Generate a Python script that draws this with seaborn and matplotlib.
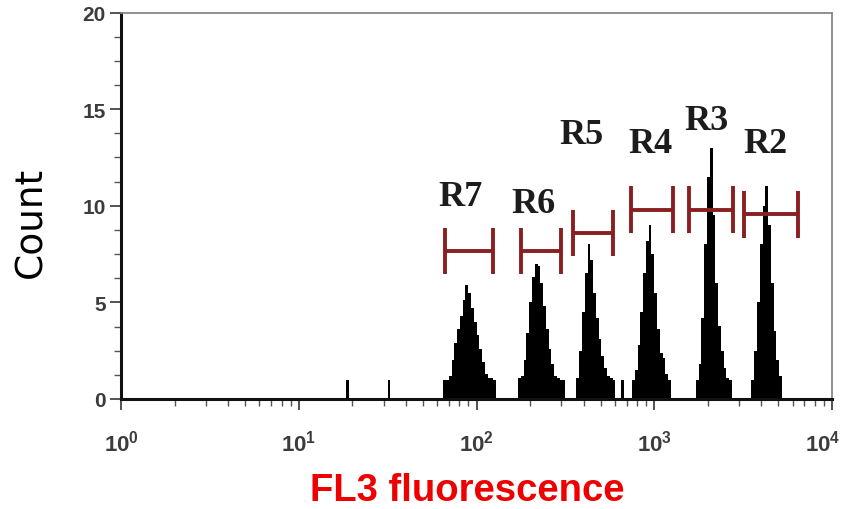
import numpy as np
import pandas as pd
import matplotlib
matplotlib.use("Agg")
import matplotlib.pyplot as plt
import matplotlib.transforms as mtransforms
from matplotlib.ticker import FixedLocator, LogLocator, NullFormatter
import seaborn as sns

# ---- data (channels: 64 per decade, 4 decades) ----
channels_per_decade = 64
r7_start, r7_counts = 116, [1.0, 1.0, 1.2, 2.0, 2.9, 3.6, 4.3, 5.1, 5.9, 5.5, 4.7, 4.0, 3.3, 2.6, 1.9, 1.3, 1.1, 1.1, 1.0]
r6_start, r6_counts = 143, [1.1, 1.2, 2.0, 3.4, 5.0, 6.3, 7.0, 6.9, 6.0, 4.8, 3.6, 2.6, 1.8, 1.2, 1.1, 1.0, 1.0]
r5_start, r5_counts = 164, [1.1, 2.5, 4.5, 6.5, 8.0, 7.2, 5.5, 4.2, 3.1, 2.2, 1.6, 1.2, 1.1, 1.0]
r4_start, r4_counts = 184, [1.0, 1.5, 2.8, 4.5, 6.5, 8.2, 9.0, 7.5, 5.5, 3.6, 2.4, 2.1, 1.3, 1.0]
r3_start, r3_counts = 207, [1.0, 1.8, 4.2, 8.0, 11.5, 13.0, 9.5, 6.0, 3.8, 2.5, 1.6, 1.1, 1.0]
r2_start, r2_counts = 227, [1.0, 2.5, 5.0, 8.0, 10.0, 11.0, 9.0, 6.0, 3.5, 2.0, 1.2]
spike_channels = [81, 96, 180]
spike_counts = [1.0, 1.0, 1.0]

gate_names = ["R7", "R6", "R5", "R4", "R3", "R2"]
gate_left = [66.9, 177, 347, 738, 1564, 3192]
gate_right = [124.6, 297, 584, 1271, 2768, 6433]
gate_y = [7.65, 7.65, 8.6, 9.8, 9.8, 9.55]
label_x = [81.3, 209, 391, 955, 1977, 4249]
label_y = [10.5, 10.1, 13.7, 13.2, 14.4, 13.2]

x_ticks = [1, 10, 100, 1000, 10000]
x_tick_labels = [r"$\mathbf{10^{0}}$", r"$\mathbf{10^{1}}$", r"$\mathbf{10^{2}}$",
                 r"$\mathbf{10^{3}}$", r"$\mathbf{10^{4}}$"]
y_ticks = [0, 5, 10, 15, 20]

# ---- build table ----
ch_list, w_list = [], []
for start, counts in [(r7_start, r7_counts), (r6_start, r6_counts), (r5_start, r5_counts),
                      (r4_start, r4_counts), (r3_start, r3_counts), (r2_start, r2_counts)]:
    ch_list += list(range(start, start + len(counts)))
    w_list += counts
ch_list += spike_channels
w_list += spike_counts
df = pd.DataFrame({"channel": ch_list, "count": w_list})
df["fl3"] = 10 ** ((df["channel"] + 0.5) / channels_per_decade)

sns.set_style("ticks")
plt.rcParams["font.family"] = ["DejaVu Sans"]
plt.rcParams["mathtext.fontset"] = "custom"
plt.rcParams["mathtext.bf"] = "Liberation Sans:bold"
plt.rcParams["mathtext.rm"] = "Liberation Sans"

fig = plt.figure(figsize=(8.44, 5.10), dpi=100)
ax = fig.add_axes([121 / 844, 1 - 400 / 510, (832 - 121) / 844, (400 - 13.5) / 510])

sns.histplot(data=df, x="fl3", weights="count", binwidth=1 / channels_per_decade,
             binrange=(0, 4), log_scale=True,
             element="bars", fill=True, color="black", alpha=1, linewidth=0,
             antialiased=False, ax=ax)

ax.set_xlim(1, 10000)
ax.set_ylim(0, 20)

# gates
gcol = "#8a1f22"
half = 1.2
ax.hlines(gate_y, gate_left, gate_right, color=gcol, lw=2.8)
ax.vlines(gate_left, np.array(gate_y) - half, np.array(gate_y) + half, color=gcol, lw=2.8)
ax.vlines(gate_right, np.array(gate_y) - half, np.array(gate_y) + half, color=gcol, lw=2.8)
for name, lx, ly in zip(gate_names, label_x, label_y):
    ax.text(lx, ly, name, ha="center", va="center", fontsize=26, fontweight="bold",
            family="Liberation Serif", color="#1c1c1c")

# axes styling
ax.set_xticks(x_ticks)
ax.set_xticklabels(x_tick_labels)
ax.xaxis.set_minor_locator(LogLocator(base=10, subs=np.arange(2, 10)))
ax.xaxis.set_minor_formatter(NullFormatter())
ax.set_yticks(y_ticks)
ax.yaxis.set_minor_locator(FixedLocator(np.arange(0, 20.01, 1.25)))
ax.tick_params(axis="both", which="major", direction="out", length=8, width=1.3, color="#444444")
ax.tick_params(axis="both", which="minor", direction="out", length=5, width=1.0, color="#555555")
ax.tick_params(axis="x", which="major", labelsize=16, labelcolor="#3c3c3c", pad=13)
ax.tick_params(axis="y", which="major", labelsize=15, labelcolor="#3c3c3c", pad=3)
for lbl in ax.get_yticklabels():
    lbl.set_fontweight("bold")
    lbl.set_family("Liberation Sans")
shift = mtransforms.ScaledTranslation(-9 / 100, 0, fig.dpi_scale_trans)
last = ax.get_xticklabels()[-1]
last.set_transform(last.get_transform() + shift)

for s in ["left", "bottom"]:
    ax.spines[s].set_color("#111111")
    ax.spines[s].set_linewidth(2.2)
for s in ["top", "right"]:
    ax.spines[s].set_visible(True)
    ax.spines[s].set_color("#888888")
    ax.spines[s].set_linewidth(1.3)

ax.set_ylabel("Count", fontsize=27, color="black", family="DejaVu Sans")
ax.yaxis.set_label_coords(-0.1005, 0.46)
ax.set_xlabel("FL3 fluorescence", fontsize=27.5, fontweight="bold", color="#ee0000",
              family="Liberation Sans")
ax.xaxis.set_label_coords(0.487, -0.19)

fig.savefig("out.png", dpi=100)
